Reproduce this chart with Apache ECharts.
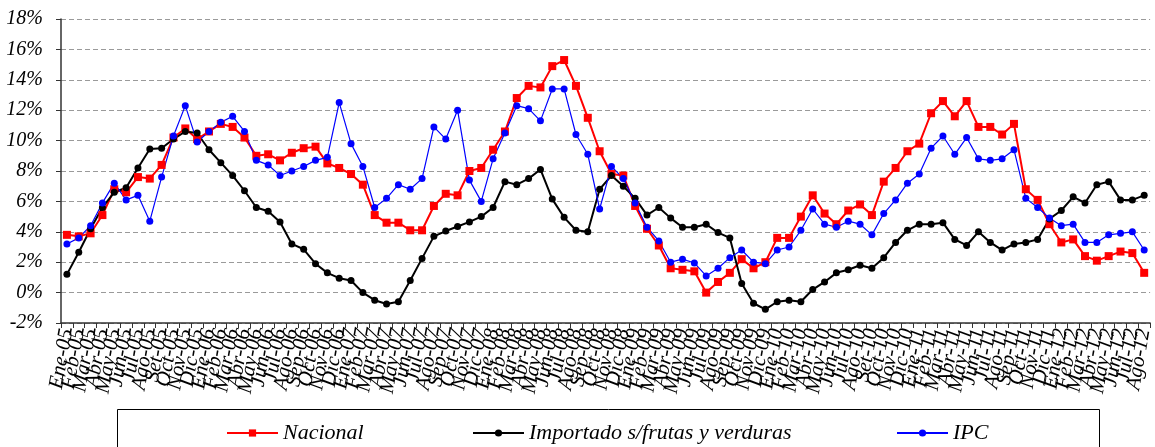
<!DOCTYPE html>
<html><head><meta charset="utf-8">
<script src="https://cdn.jsdelivr.net/npm/echarts@6/dist/echarts.min.js"></script>
<style>html,body{margin:0;padding:0;background:#fff}#c{width:1155px;height:447px}</style>
</head><body><div id="c"></div>
<script>
const categories = [
'Ene-05','Feb-05','Mar-05','Abr-05','May-05','Jun-05','Jul-05','Ago-05','Set-05','Oct-05','Nov-05','Dic-05',
'Ene-06','Feb-06','Mar-06','Abr-06','May-06','Jun-06','Jul-06','Ago-06','Sep-06','Oct-06','Nov-06','Dic-06',
'Ene-07','Feb-07','Mar-07','Abr-07','May-07','Jun-07','Jul-07','Ago-07','Sep-07','Oct-07','Nov-07','Dic-07',
'Ene-08','Feb-08','Mar-08','Abr-08','May-08','Jun-08','Jul-08','Ago-08','Sep-08','Oct-08','Nov-08','Dic-08',
'Ene-09','Feb-09','Mar-09','Abr-09','May-09','Jun-09','Jul-09','Ago-09','Sep-09','Oct-09','Nov-09','Dic-09',
'Ene-10','Feb-10','Mar-10','Abr-10','May-10','Jun-10','Jul-10','Ago-10','Set-10','Oct-10','Nov-10','Dic-10',
'Ene-11','Feb-11','Mar-11','Abr-11','May-11','Jun-11','Jul-11','Ago-11','Sep-11','Oct-11','Nov-11','Dic-11',
'Ene-12','Feb-12','Mar-12','Abr-12','May-12','Jun-12','Jul-12','Ago-12'];

const nacional = [3.8,3.7,3.9,5.1,6.8,6.6,7.6,7.5,8.4,10.2,
10.8,10.1,10.6,11.1,10.9,10.2,9.0,9.1,8.7,9.2,
9.5,9.6,8.5,8.2,7.8,7.1,5.1,4.6,4.6,4.1,
4.1,5.7,6.5,6.4,8.0,8.2,9.4,10.6,12.8,13.6,
13.5,14.9,15.3,13.6,11.5,9.3,7.8,7.7,5.7,4.2,
3.1,1.6,1.5,1.4,0.0,0.7,1.3,2.2,1.6,2.0,
3.6,3.6,5.0,6.4,5.2,4.5,5.4,5.8,5.1,7.3,
8.2,9.3,9.8,11.8,12.6,11.6,12.6,10.9,10.9,10.4,
11.1,6.8,6.1,4.5,3.3,3.5,2.4,2.1,2.4,2.7,
2.6,1.3];

const importado = [1.2,2.65,4.2,5.6,6.6,6.9,8.2,9.45,9.5,10.1,
10.6,10.5,9.4,8.55,7.7,6.7,5.6,5.35,4.65,3.2,
2.85,1.9,1.3,0.95,0.8,0.0,-0.5,-0.75,-0.6,0.8,
2.25,3.7,4.05,4.35,4.65,5.0,5.6,7.3,7.1,7.5,
8.1,6.15,4.95,4.1,4.0,6.8,7.7,7.0,6.2,5.1,
5.6,4.9,4.3,4.3,4.5,3.95,3.6,0.6,-0.7,-1.1,
-0.6,-0.5,-0.6,0.2,0.7,1.3,1.5,1.8,1.6,2.3,
3.3,4.1,4.5,4.5,4.6,3.5,3.1,4.0,3.3,2.8,
3.2,3.3,3.5,4.85,5.4,6.3,5.9,7.1,7.3,6.1,
6.1,6.4];

const ipc = [3.2,3.6,4.4,5.9,7.2,6.1,6.4,4.7,7.6,10.3,
12.3,9.9,10.6,11.2,11.6,10.6,8.7,8.4,7.7,8.0,
8.3,8.7,8.9,12.5,9.8,8.3,5.6,6.2,7.1,6.8,
7.5,10.9,10.1,12.0,7.4,6.0,8.8,10.5,12.3,12.1,
11.3,13.4,13.4,10.4,9.1,5.5,8.3,7.5,5.9,4.3,
3.4,2.0,2.2,1.95,1.1,1.6,2.3,2.8,2.0,1.9,
2.8,3.0,4.1,5.5,4.5,4.3,4.7,4.5,3.8,5.2,
6.1,7.2,7.8,9.5,10.3,9.1,10.2,8.8,8.7,8.8,
9.4,6.2,5.6,4.9,4.4,4.5,3.3,3.3,3.8,3.9,
4.0,2.8];

const seriesNames = ['Nacional','Importado s/frutas y verduras','IPC'];

const FONT = '"Liberation Serif", "DejaVu Serif", serif';
const chart = echarts.init(document.getElementById('c'), null, {renderer:'canvas'});
const legendText = {fontFamily: FONT, fontStyle:'italic', fontSize: 22, color:'#000'};
chart.setOption({
  animation: false,
  backgroundColor: '#fff',
  grid: {left: 61, width: 1098, top: 19, bottom: 124, containLabel: false},
  graphic: [{type:'rect', shape:{x:117.5, y:409.5, width:982, height:60}, style:{fill:'none', stroke:'#000', lineWidth:1}, silent:true}],
  legend: [
    {data:[seriesNames[0]], left: 221, top: 417, itemWidth: 51, itemHeight: 9, textStyle: legendText},
    {data:[seriesNames[1]], left: 467, top: 417, itemWidth: 51, itemHeight: 9, textStyle: legendText},
    {data:[seriesNames[2]], left: 891, top: 417, itemWidth: 51, itemHeight: 9, textStyle: legendText}
  ],
  xAxis: {
    type: 'category', data: categories, boundaryGap: true,
    axisLine: {onZero: false, lineStyle: {color:'#333', width:1.5}},
    axisTick: {show: true, length: 5, lineStyle:{color:'#333'}},
    axisLabel: {interval: 0, rotate: 80, margin: 6, fontFamily: FONT, fontStyle:'italic', fontSize: 21, color:'#000'},
    splitLine: {show:false}
  },
  yAxis: {
    type: 'value', min: -2, max: 18, interval: 2,
    axisLine: {show: true, lineStyle:{color:'#333', width:1.5}},
    axisTick: {show: true, length: 5, lineStyle:{color:'#333'}},
    axisLabel: {formatter: '{value}%', margin: 18, fontFamily: FONT, fontStyle:'italic', fontSize: 20, color:'#000'},
    splitLine: {show: true, lineStyle:{color:'#9a9a9a', type:[5,3], width:1.2}}
  },
  series: [
    {name: seriesNames[0], type:'line', data: nacional, symbol:'rect', symbolSize: 8, color:'#ff0000', lineStyle:{width:2}},
    {name: seriesNames[1], type:'line', data: importado, symbol:'circle', symbolSize: 7, color:'#000000', lineStyle:{width:2}},
    {name: seriesNames[2], type:'line', data: ipc, symbol:'circle', symbolSize: 7, color:'#0000ff', lineStyle:{width:1.2}}
  ]
});
</script></body></html>
